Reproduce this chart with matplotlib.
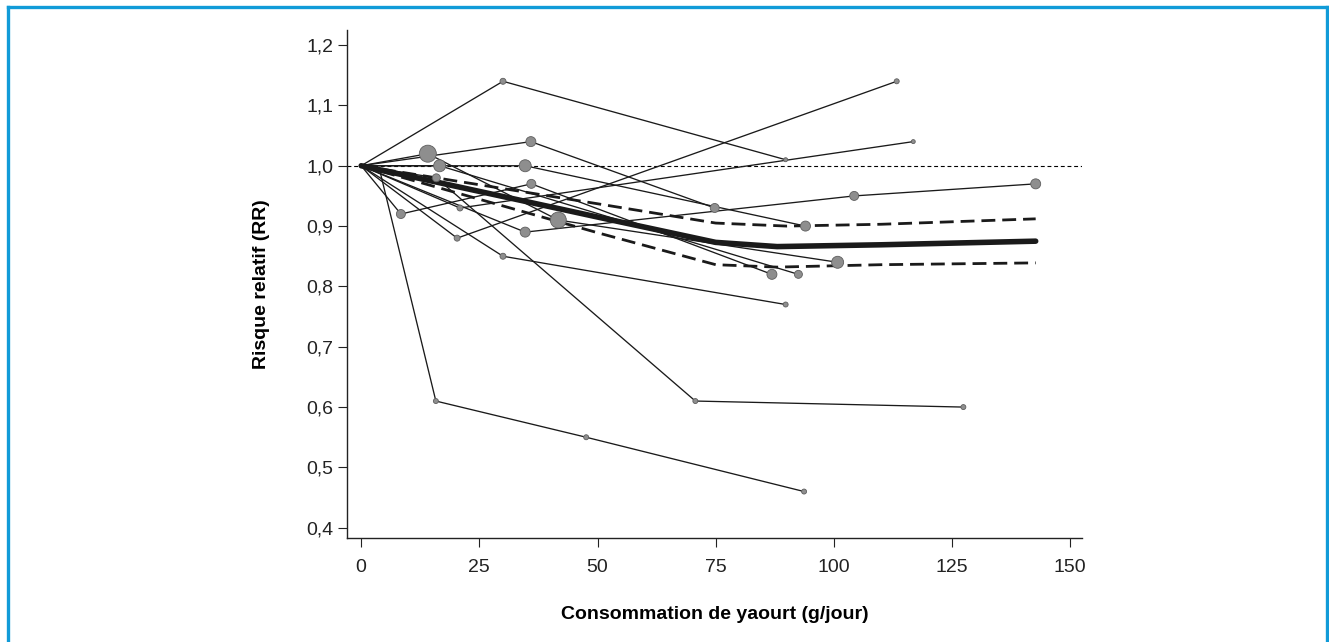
import matplotlib
matplotlib.use("Agg")
import matplotlib.pyplot as plt
from matplotlib.lines import Line2D

plt.rcParams['font.family'] = ['Liberation Sans', 'DejaVu Sans']

# Études individuelles : doses (g/jour), risques relatifs, poids (taille du point)
doses = [
    [0, 30.0, 89.8],
    [0, 4.0, 15.8, 47.6, 93.7],
    [0, 15.9, 70.7, 127.4],
    [0, 8.4, 36.0, 86.9],
    [0, 34.7, 104.3, 142.7],
    [0, 35.9, 74.8],
    [0, 34.7, 94.0],
    [0, 20.3, 113.3],
    [0, 14.1, 41.7, 100.8],
    [0, 20.9, 116.8],
    [0, 16.6, 92.5],
    [0, 30.0, 89.8],
]
rr = [
    [1.0, 1.14, 1.01],
    [1.0, 0.99, 0.61, 0.55, 0.46],
    [1.0, 0.98, 0.61, 0.60],
    [1.0, 0.92, 0.97, 0.82],
    [1.0, 0.89, 0.95, 0.97],
    [1.0, 1.04, 0.93],
    [1.0, 1.00, 0.90],
    [1.0, 0.88, 1.14],
    [1.0, 1.02, 0.91, 0.84],
    [1.0, 0.93, 1.04],
    [1.0, 1.00, 0.82],
    [1.0, 0.85, 0.77],
]
poids = [
    [0, 3, 2],
    [0, 0, 2.5, 2.5, 2.5],
    [0, 4, 2.5, 2.5],
    [0, 4.5, 4.5, 5],
    [0, 5, 4.5, 5],
    [0, 5, 4.5],
    [0, 6, 5],
    [0, 3, 2.5],
    [0, 8.5, 8, 6],
    [0, 3, 2],
    [0, 6, 4],
    [0, 3, 2.5],
]

# Courbe dose-réponse poolée et intervalle de confiance
pool_x = [0, 50, 75, 88, 110, 142.7]
pool_rr = [1.0, 0.915, 0.873, 0.866, 0.869, 0.875]
ic_haut_x = [0, 50, 75, 90, 110, 142.7]
ic_haut = [1.0, 0.937, 0.905, 0.900, 0.903, 0.912]
ic_bas_x = [0, 50, 75, 88, 110, 142.7]
ic_bas = [1.0, 0.889, 0.836, 0.832, 0.836, 0.839]

x_ticks = [0, 25, 50, 75, 100, 125, 150]
y_ticks = [0.4, 0.5, 0.6, 0.7, 0.8, 0.9, 1.0, 1.1, 1.2]
y_labels = ['0,4', '0,5', '0,6', '0,7', '0,8', '0,9', '1,0', '1,1', '1,2']

fig = plt.figure(figsize=(13.29, 6.42), dpi=100)
ax = fig.add_axes([347 / 1329, 104 / 642, 735 / 1329, 508 / 642])

ax.axhline(1.0, color='black', lw=0.8, ls=(0, (3.5, 2.5)), zorder=1)

for xs, ys in zip(doses, rr):
    ax.plot(xs, ys, color='#1a1a1a', lw=0.95, zorder=2)

ax.plot(ic_haut_x, ic_haut, color='#1a1a1a', lw=2.0, ls=(0, (5, 2.5)), zorder=3)
ax.plot(ic_bas_x, ic_bas, color='#1a1a1a', lw=2.0, ls=(0, (5, 2.5)), zorder=3)
ax.plot(pool_x, pool_rr, color='#1a1a1a', lw=4.0, solid_capstyle='round', zorder=3)

for xs, ys, ps in zip(doses, rr, poids):
    pts = [(x, y, p) for x, y, p in zip(xs, ys, ps) if p > 0]
    ax.scatter([p[0] for p in pts], [p[1] for p in pts],
               s=[(1.44 * p[2]) ** 2 for p in pts],
               color='#8e8e8e', edgecolors='#5e5e5e', linewidths=0.6, zorder=4)

ax.set_xlim(-3, 152.5)
ax.set_ylim(0.383, 1.225)
ax.set_xticks(x_ticks)
ax.set_yticks(y_ticks)
ax.set_yticklabels(y_labels)
ax.tick_params(labelsize=14, length=6.5, width=0.8, colors='#222222')
ax.tick_params(axis='x', pad=8.5)
ax.tick_params(axis='y', pad=3.5)
ax.spines['top'].set_visible(False)
ax.spines['right'].set_visible(False)
for s in ['left', 'bottom']:
    ax.spines[s].set_linewidth(1.0)
    ax.spines[s].set_color('#222222')

ax.set_xlabel('Consommation de yaourt (g/jour)', fontsize=14, fontweight='bold', labelpad=22)
ax.set_ylabel('Risque relatif (RR)', fontsize=14, fontweight='bold', labelpad=26)

# cadre bleu (ouvert en bas)
bleu = '#119bd8'
fig.add_artist(Line2D([8 / 1329, 8 / 1329], [0, 635 / 642], color=bleu, lw=2.4, transform=fig.transFigure))
fig.add_artist(Line2D([8 / 1329, 1327 / 1329], [635 / 642, 635 / 642], color=bleu, lw=2.4, transform=fig.transFigure))
fig.add_artist(Line2D([1327 / 1329, 1327 / 1329], [0, 635 / 642], color=bleu, lw=2.4, transform=fig.transFigure))

fig.savefig('out.png', dpi=100)
